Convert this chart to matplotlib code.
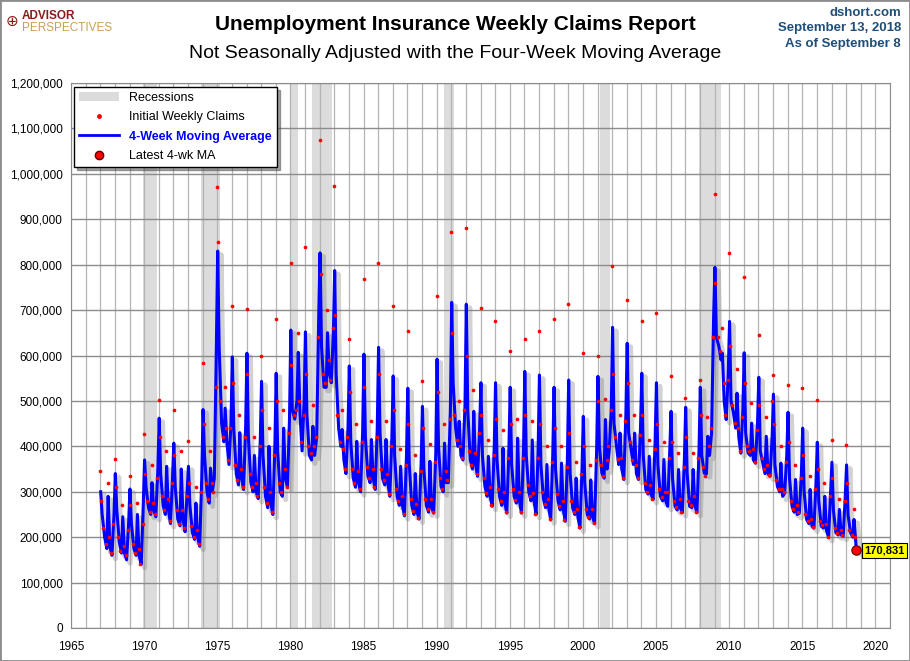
import matplotlib
matplotlib.use("Agg")
import matplotlib.pyplot as plt
import matplotlib.patheffects as pe
from matplotlib.patches import Patch, Rectangle
from matplotlib.lines import Line2D
from matplotlib.ticker import FuncFormatter, MultipleLocator
import numpy as np

nan = np.nan
years = np.arange(1967, 2019)

# 4-week moving average, thousands, read at fixed points of each year
# (Jan peak, Feb, Apr, Jun, Jul peak, Aug, Oct low, Dec)
ma_points = [0.03, 0.13, 0.30, 0.45, 0.54, 0.66, 0.80, 0.94]
ma_jan = [300, 340, 306, 370, 462, 407, 356, 481, 830, 597,
          605, 543, 561, 656, 652, 826, 787, 577, 603, 618,
          555, 528, 488, 592, 717, 713, 540, 540, 530, 565,
          557, 530, 546, 466, 554, 662, 627, 561, 540, 477,
          486, 530, 794, 675, 606, 552, 515, 475, 440, 409,
          365, 359]
ma_feb = [250, 260, 230, 310, 340, 310, 270, 380, 620, 440,
          420, 380, 390, 480, 470, 620, 560, 410, 420, 430,
          380, 360, 350, 400, 540, 480, 380, 370, 360, 380,
          360, 350, 340, 320, 400, 450, 430, 380, 360, 330,
          340, 380, 640, 500, 430, 390, 360, 330, 300, 280,
          260, 250]
ma_apr = [200, 190, 175, 265, 270, 240, 210, 300, 450, 340,
          320, 290, 300, 460, 380, 530, 440, 330, 335, 330,
          290, 270, 270, 312, 440, 370, 312, 290, 290, 300,
          285, 280, 265, 250, 341, 400, 393, 305, 290, 268,
          268, 341, 620, 473, 385, 363, 312, 268, 239, 224,
          210, 210]
ma_jun = [175, 165, 160, 250, 250, 225, 195, 275, 410, 315,
          300, 265, 290, 500, 370, 530, 400, 310, 320, 315,
          270, 250, 255, 300, 400, 350, 290, 270, 275, 280,
          265, 260, 250, 240, 330, 360, 360, 295, 280, 260,
          265, 340, 590, 440, 380, 340, 300, 255, 230, 220,
          205, 200]
ma_jul = [290, 245, 250, 320, 356, 350, 275, 352, 484, 430,
          380, 400, 440, 607, 444, 650, 437, 411, 415, 415,
          356, 340, 367, 407, 455, 477, 378, 396, 418, 414,
          360, 363, 330, 326, 459, 429, 429, 378, 371, 349,
          349, 422, 605, 517, 451, 422, 363, 327, 305, 290,
          261, 239]
ma_aug = [180, 165, 160, 260, 260, 240, 200, 300, 410, 330,
          300, 275, 330, 470, 380, 560, 370, 320, 330, 320,
          270, 255, 265, 320, 380, 360, 290, 275, 280, 280,
          265, 260, 245, 245, 350, 350, 340, 295, 280, 265,
          270, 380, 500, 420, 370, 340, 290, 250, 225, 215,
          205, 190]
ma_oct = [160, 150, 140, 245, 230, 212, 180, 330, 360, 305,
          285, 250, 310, 390, 420, 540, 340, 300, 305, 290,
          247, 240, 253, 320, 370, 334, 268, 253, 253, 250,
          238, 235, 220, 230, 390, 327, 327, 283, 268, 254,
          254, 429, 459, 385, 363, 334, 297, 253, 220, 199,
          202, nan]
ma_dec = [250, 230, 270, 350, 330, 300, 330, 620, 450, 440,
          410, 400, 460, 500, 690, 650, 440, 430, 440, 420,
          380, 360, 380, 480, 490, 440, 400, 390, 390, 390,
          380, 370, 350, 390, 480, 470, 440, 410, 390, 370,
          390, 685, 560, 480, 450, 420, 380, 340, 320, 300,
          290, nan]

# initial weekly claims, thousands (Jan max, mid Jan, Mar, May, Jul, Aug, Sep, Nov)
wk_points = [0.01, 0.06, 0.22, 0.38, 0.52, 0.62, 0.74, 0.90]
wk_janmax = [346, 372, 334, 427, 501, 479, 412, 584, 970, 708,
             702, 600, 680, 803, 838, 1074, 974, 637, 768, 803,
             709, 654, 544, 730, 871, 880, 704, 675, 611, 636,
             654, 681, 714, 605, 600, 798, 723, 677, 693, 555,
             506, 546, 955, 825, 772, 645, 557, 535, 528, 502,
             414, 403]
wk_jan2 = [280, 310, 270, 340, 420, 380, 320, 450, 851, 540,
           560, 480, 500, 580, 560, 780, 690, 520, 530, 560,
           480, 450, 440, 520, 650, 600, 470, 460, 450, 470,
           450, 440, 430, 400, 500, 560, 540, 470, 450, 410,
           420, 470, 760, 620, 540, 490, 450, 410, 380, 350,
           330, 320]
wk_mar = [220, 200, 185, 280, 290, 260, 225, 320, 500, 360,
          340, 310, 320, 470, 400, 560, 470, 350, 355, 350,
          305, 285, 285, 330, 470, 390, 330, 305, 305, 315,
          300, 295, 280, 262, 360, 420, 410, 320, 305, 280,
          280, 355, 640, 490, 400, 375, 325, 280, 250, 235,
          220, 215]
wk_may = [185, 170, 165, 255, 260, 230, 200, 285, 420, 325,
          310, 275, 300, 480, 385, 540, 410, 320, 330, 325,
          280, 258, 262, 305, 415, 360, 298, 280, 282, 290,
          272, 268, 255, 245, 335, 372, 370, 300, 288, 266,
          270, 335, 610, 452, 390, 350, 306, 262, 236, 226,
          210, 205]
wk_jul = [320, 270, 275, 360, 390, 390, 310, 390, 530, 470,
          420, 440, 480, 650, 490, 700, 480, 450, 455, 455,
          395, 380, 405, 450, 500, 525, 415, 435, 460, 455,
          400, 400, 365, 360, 505, 470, 470, 415, 410, 385,
          385, 465, 660, 570, 495, 465, 400, 360, 335, 320,
          285, 262]
wk_aug = [200, 180, 175, 275, 285, 260, 215, 320, 440, 350,
          320, 300, 350, 500, 400, 590, 395, 345, 350, 340,
          290, 272, 285, 345, 400, 385, 310, 300, 300, 298,
          285, 280, 262, 262, 370, 375, 360, 315, 300, 285,
          290, 400, 540, 440, 395, 360, 305, 270, 240, 228,
          215, 200]
wk_sep = [165, 160, 140, 250, 235, 220, 185, 300, 370, 310,
          290, 255, 310, 410, 420, 545, 350, 305, 310, 295,
          250, 242, 255, 325, 375, 340, 270, 255, 255, 252,
          240, 237, 222, 232, 400, 330, 330, 285, 300, 256,
          256, 440, 470, 390, 365, 336, 300, 255, 222, 200,
          204, nan]
wk_nov = [230, 215, 230, 330, 320, 290, 300, 530, 440, 420,
          400, 380, 430, 470, 640, 660, 420, 410, 420, 400,
          360, 345, 365, 460, 480, 430, 380, 375, 375, 375,
          365, 355, 340, 370, 480, 455, 425, 395, 375, 355,
          375, 640, 545, 465, 435, 500, 365, 330, 305, 290,
          280, nan]

latest_date = 2018.685   # week of September 8, 2018
latest_ma = 170831

recessions = [(1969.92, 1970.87), (1973.87, 1975.2), (1980.0, 1980.5),
              (1981.5, 1982.87), (1990.5, 1991.2), (2001.2, 2001.87),
              (2007.92, 2009.45)]

# flatten the tables into time order
ma_cols = np.array([ma_jan, ma_feb, ma_apr, ma_jun, ma_jul, ma_aug, ma_oct, ma_dec]).T
ma_t = (years[:, None] + np.array(ma_points)[None, :]).ravel()
ma_v = ma_cols.ravel() * 1000
ok = ~np.isnan(ma_v)
ma_t = np.append(ma_t[ok], latest_date)
ma_v = np.append(ma_v[ok], latest_ma)

wk_cols = np.array([wk_janmax, wk_jan2, wk_mar, wk_may, wk_jul, wk_aug, wk_sep, wk_nov]).T
wk_t = (years[:, None] + np.array(wk_points)[None, :]).ravel()
wk_v = wk_cols.ravel() * 1000
ok = ~np.isnan(wk_v)
wk_t, wk_v = wk_t[ok], wk_v[ok]

plt.rcParams["font.family"] = ["Liberation Sans", "DejaVu Sans"]

fig = plt.figure(figsize=(9.1, 6.61), dpi=100)
ax = fig.add_axes([71 / 910, 33 / 661, 819 / 910, 545 / 661])

for a, b in recessions:
    ax.axvspan(a, b, color="#dcdcdc", lw=0, zorder=0)

ax.plot(ma_t, ma_v, color="#0000ff", lw=2.2, zorder=3,
        path_effects=[pe.SimpleLineShadow(offset=(2.5, -2.5), shadow_color="#808080",
                                          alpha=0.35, linewidth=3.5), pe.Normal()])
ax.scatter(wk_t, wk_v, s=7, color="red", linewidths=0, zorder=4)
ax.scatter([latest_date], [latest_ma], s=45, color="red", edgecolors="#600000",
           linewidths=0.8, zorder=5)
ax.annotate(f"{latest_ma:,}", xy=(latest_date, latest_ma), xytext=(6, 0),
            textcoords="offset points", ha="left", va="center", fontsize=8,
            fontweight="bold", annotation_clip=False, zorder=6,
            bbox=dict(boxstyle="square,pad=0.2", fc="yellow", ec="black", lw=0.8))

ax.set_xlim(1965, 2021)
ax.set_ylim(0, 1200000)
ax.xaxis.set_major_locator(MultipleLocator(5))
ax.xaxis.set_minor_locator(MultipleLocator(1))
ax.yaxis.set_major_locator(MultipleLocator(100000))
ax.yaxis.set_major_formatter(FuncFormatter(lambda v, p: f"{int(v):,}"))
ax.grid(True, which="both", axis="x", color="#b4b4b4", lw=0.9, zorder=1)
ax.grid(True, which="major", axis="y", color="#8c8c8c", lw=1.0, zorder=1)
ax.set_axisbelow(True)
ax.tick_params(which="both", length=0, labelsize=8.5, colors="black")
ax.tick_params(axis="x", pad=9)
ax.tick_params(axis="y", pad=6)
for s in ax.spines.values():
    s.set_color("#8c8c8c")

handles = [Patch(facecolor="#dcdcdc", edgecolor="none"),
           Line2D([], [], marker="o", ms=2.5, color="red", ls="none"),
           Line2D([], [], color="#0000ff", lw=2),
           Line2D([], [], marker="o", ms=6, color="red", mec="#600000", ls="none")]
labels = ["Recessions", "Initial Weekly Claims", "4-Week Moving Average", "Latest 4-wk MA"]
leg = ax.legend(handles, labels, loc="upper left", bbox_to_anchor=(0.004, 0.993),
                borderaxespad=0, fontsize=9, frameon=True, fancybox=False,
                shadow=True, edgecolor="black", handlelength=3.2, labelspacing=0.6)
leg.get_frame().set_linewidth(1.0)
leg.set_zorder(10)
t = leg.get_texts()[2]
t.set_color("#0000ff")
t.set_fontweight("bold")

fig.text(0.5, 0.963, "Unemployment Insurance Weekly Claims Report", ha="center",
         va="center", fontsize=15, fontweight="bold")
fig.text(0.5, 0.919, "Not Seasonally Adjusted with the Four-Week Moving Average",
         ha="center", va="center", fontsize=14)
for i, s in enumerate(["dshort.com", "September 13, 2018", "As of September 8"]):
    fig.text(0.990, 0.981 - i * 0.024, s, ha="right", va="center", fontsize=9.5,
             fontweight="bold", color="#1f4e79")
fig.text(0.024, 0.976, "ADVISOR", ha="left", va="center", fontsize=8.5,
         fontweight="bold", color="#8b1a1a")
fig.text(0.024, 0.958, "PERSPECTIVES", ha="left", va="center", fontsize=8.5,
         color="#c8a050")
fig.text(0.013, 0.967, "\u2295", ha="center", va="center", fontsize=11,
         color="#8b1a1a", family=["DejaVu Sans"])

fig.patches.append(Rectangle((0, 0), 1, 1, transform=fig.transFigure, fill=False,
                             edgecolor="#8c8c8c", lw=2))

fig.savefig("out.png", dpi=100)
